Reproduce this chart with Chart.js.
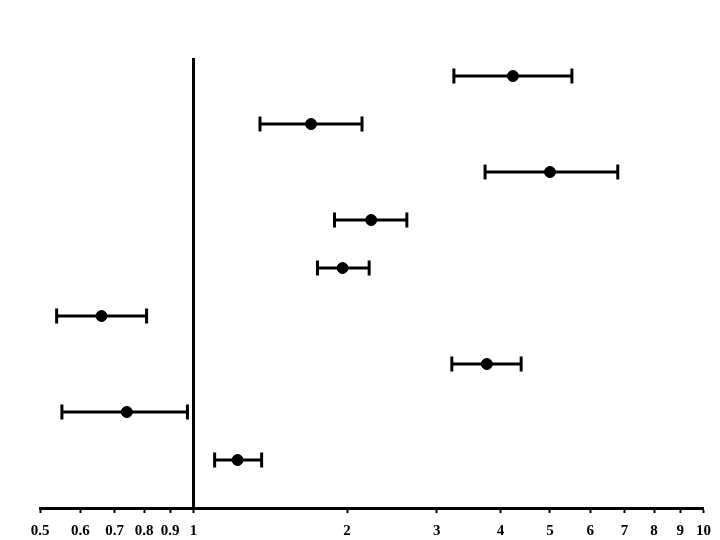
<!DOCTYPE html>
<html>
<head>
<meta charset="utf-8">
<script src="https://cdn.jsdelivr.net/npm/chart.js"></script>
<style>
  html, body { margin: 0; padding: 0; background: #fff; }
  #wrap { width: 720px; height: 540px; }
</style>
</head>
<body>
<div id="wrap"><canvas id="forest"></canvas></div>
<script>
// rows from bottom (1) to top (9)
const rows = [1, 2, 3, 4, 5, 6, 7, 8, 9];
const estimate = [1.22, 0.74, 3.76, 0.66, 1.96, 2.23, 5.00, 1.70, 4.23];
const lower    = [1.10, 0.552, 3.21, 0.539, 1.75, 1.89, 3.73, 1.35, 3.24];
const upper    = [1.36, 0.973, 4.39, 0.809, 2.21, 2.62, 6.79, 2.14, 5.52];
const xTicks = [0.5, 0.6, 0.7, 0.8, 0.9, 1, 2, 3, 4, 5, 6, 7, 8, 9, 10];
const refValue = 1;
const yTop = 9.375;

// points
const pointData = rows.map((r, i) => ({ x: estimate[i], y: r }));
// whisker lines, broken with null between rows
const whiskerData = [];
rows.forEach((r, i) => {
    whiskerData.push({ x: lower[i], y: r });
    whiskerData.push({ x: upper[i], y: r });
    whiskerData.push({ x: upper[i], y: null });
});
// caps at both ends
const capData = [];
rows.forEach((r, i) => {
    capData.push({ x: lower[i], y: r });
    capData.push({ x: upper[i], y: r });
});

const ctx = document.getElementById('forest').getContext('2d');
new Chart(ctx, {
    type: 'scatter',
    data: {
        datasets: [
            {
                label: 'estimate',
                data: pointData,
                pointRadius: 5.5,
                pointBackgroundColor: '#000',
                pointBorderColor: '#000',
                showLine: false,
                clip: false
            },
            {
                label: 'caps',
                data: capData,
                pointStyle: 'line',
                rotation: 90,
                pointRadius: 7.5,
                pointBorderWidth: 3,
                pointBorderColor: '#000',
                showLine: false,
                clip: false
            },
            {
                type: 'line',
                label: 'ci',
                data: whiskerData,
                borderColor: '#000',
                borderWidth: 3,
                pointRadius: 0,
                spanGaps: false,
                clip: false
            },
            {
                type: 'line',
                label: 'ref',
                data: [{ x: refValue, y: 0 }, { x: refValue, y: yTop }],
                borderColor: '#000',
                borderWidth: 3,
                pointRadius: 0,
                clip: false
            }
        ]
    },
    options: {
        responsive: true,
        maintainAspectRatio: false,
        animation: false,
        layout: { padding: { left: 40, right: 15, top: 58, bottom: 0 } },
        plugins: {
            legend: { display: false },
            tooltip: { enabled: false }
        },
        scales: {
            x: {
                type: 'logarithmic',
                min: 0.5,
                max: 10,
                afterBuildTicks: (scale) => {
                    scale.ticks = xTicks.map(v => ({ value: v }));
                },
                afterFit: (scale) => {
                    scale.height = 32;
                },
                grid: {
                    drawOnChartArea: false,
                    drawTicks: true,
                    tickLength: 5,
                    tickWidth: 2,
                    tickColor: '#000'
                },
                border: { display: true, color: '#000', width: 3 },
                ticks: {
                    autoSkip: false,
                    maxRotation: 0,
                    padding: 9,
                    color: '#000',
                    font: { family: 'Liberation Serif', size: 15, weight: 'bold' },
                    callback: (v) => String(v)
                }
            },
            y: {
                type: 'linear',
                min: 0,
                max: yTop,
                display: false
            }
        }
    }
});
</script>
</body>
</html>
